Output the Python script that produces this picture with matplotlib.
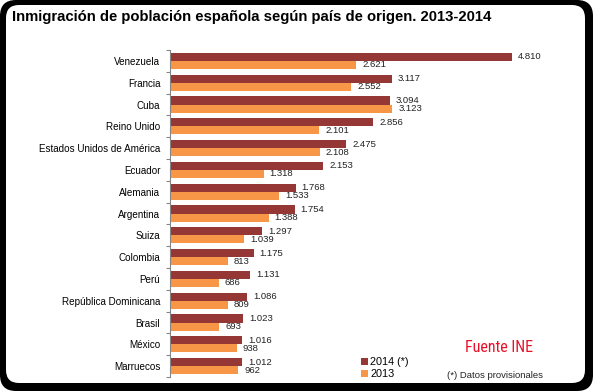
import numpy as np
import matplotlib
matplotlib.use("Agg")
import matplotlib.pyplot as plt
import matplotlib.patches as mpatches
from matplotlib.transforms import IdentityTransform

plt.rcParams['font.family'] = ['Liberation Sans', 'DejaVu Sans']

paises = ['Venezuela', 'Francia', 'Cuba', 'Reino Unido', 'Estados Unidos de América',
          'Ecuador', 'Alemania', 'Argentina', 'Suiza', 'Colombia', 'Perú',
          'República Dominicana', 'Brasil', 'México', 'Marruecos']
v2014 = [4810, 3117, 3094, 2856, 2475, 2153, 1768, 1754, 1297, 1175, 1131, 1086, 1023, 1016, 1012]
v2013 = [2621, 2552, 3123, 2101, 2108, 1318, 1533, 1388, 1039, 813, 686, 809, 693, 938, 962]

c14 = '#953735'
c13 = '#F79646'

def fmt(v):
    return '{:,}'.format(v).replace(',', '.')

fig = plt.figure(figsize=(5.93, 3.91), dpi=100)
fig.patch.set_facecolor('white')

# marco negro redondeado
borde = mpatches.FancyBboxPatch((0, 0), 593, 391, boxstyle="round,pad=0,rounding_size=16",
                                facecolor='black', edgecolor='none', transform=IdentityTransform(),
                                zorder=-10)
fondo = mpatches.FancyBboxPatch((6, 8), 579, 378, boxstyle="round,pad=0,rounding_size=13",
                                facecolor='white', edgecolor='none', transform=IdentityTransform(),
                                zorder=-9)
fig.patches.extend([borde, fondo])

ax = fig.add_axes([0.2867, 0.0358, 0.5995, 0.8363])
ax.set_facecolor('none')

y = np.arange(len(paises))
h = 0.37
b1 = ax.barh(y - h / 2, v2014, height=h, color=c14, label='2014 (*)')
b2 = ax.barh(y + h / 2, v2013, height=h, color=c13, label='2013')

for yi, v in zip(y, v2014):
    ax.text(v + 85, yi - h / 2, fmt(v), va='center', ha='left', fontsize=6.8, color='#222222')
for yi, v in zip(y, v2013):
    ax.text(v + 85, yi + h / 2, fmt(v), va='center', ha='left', fontsize=6.8, color='#222222')

ax.set_xlim(0, 5000)
ax.set_ylim(len(paises) - 0.5, -0.5)
ax.set_yticks(y)
ax.set_yticklabels(paises, fontsize=7.1)
ax.set_yticks(np.arange(len(paises) + 1) - 0.5, minor=True)
ax.tick_params(axis='y', which='major', length=0, pad=7)
ax.tick_params(axis='y', which='minor', length=3, color='#868686', width=0.8)
ax.set_xticks([])
for s in ['top', 'right', 'bottom']:
    ax.spines[s].set_visible(False)
ax.spines['left'].set_color('#868686')
ax.spines['left'].set_linewidth(0.8)

fig.text(12 / 593, 1 - 17 / 391, 'Inmigración de población española según país de origen. 2013-2014',
         fontsize=10.7, fontweight='bold', va='center', ha='left', color='black')

fig.legend(handles=[b1, b2], loc='upper left', bbox_to_anchor=(361 / 593, 1 - 357 / 391),
           frameon=False, fontsize=7.8, handlelength=0.6, handleheight=0.6,
           handletextpad=0.25, labelspacing=0.2, borderpad=0, borderaxespad=0)

fig.text(465 / 593, 1 - 347 / 391, 'Fuente INE', fontsize=11.5, color='#E8102A',
         family=['Roboto Condensed', 'DejaVu Sans'],
         va='center', ha='left')
fig.text(447 / 593, 1 - 376 / 391, '(*) Datos provisionales', fontsize=6.8,
         color='#222222', va='center', ha='left')

fig.savefig('out.png', dpi=100, facecolor=fig.get_facecolor())
